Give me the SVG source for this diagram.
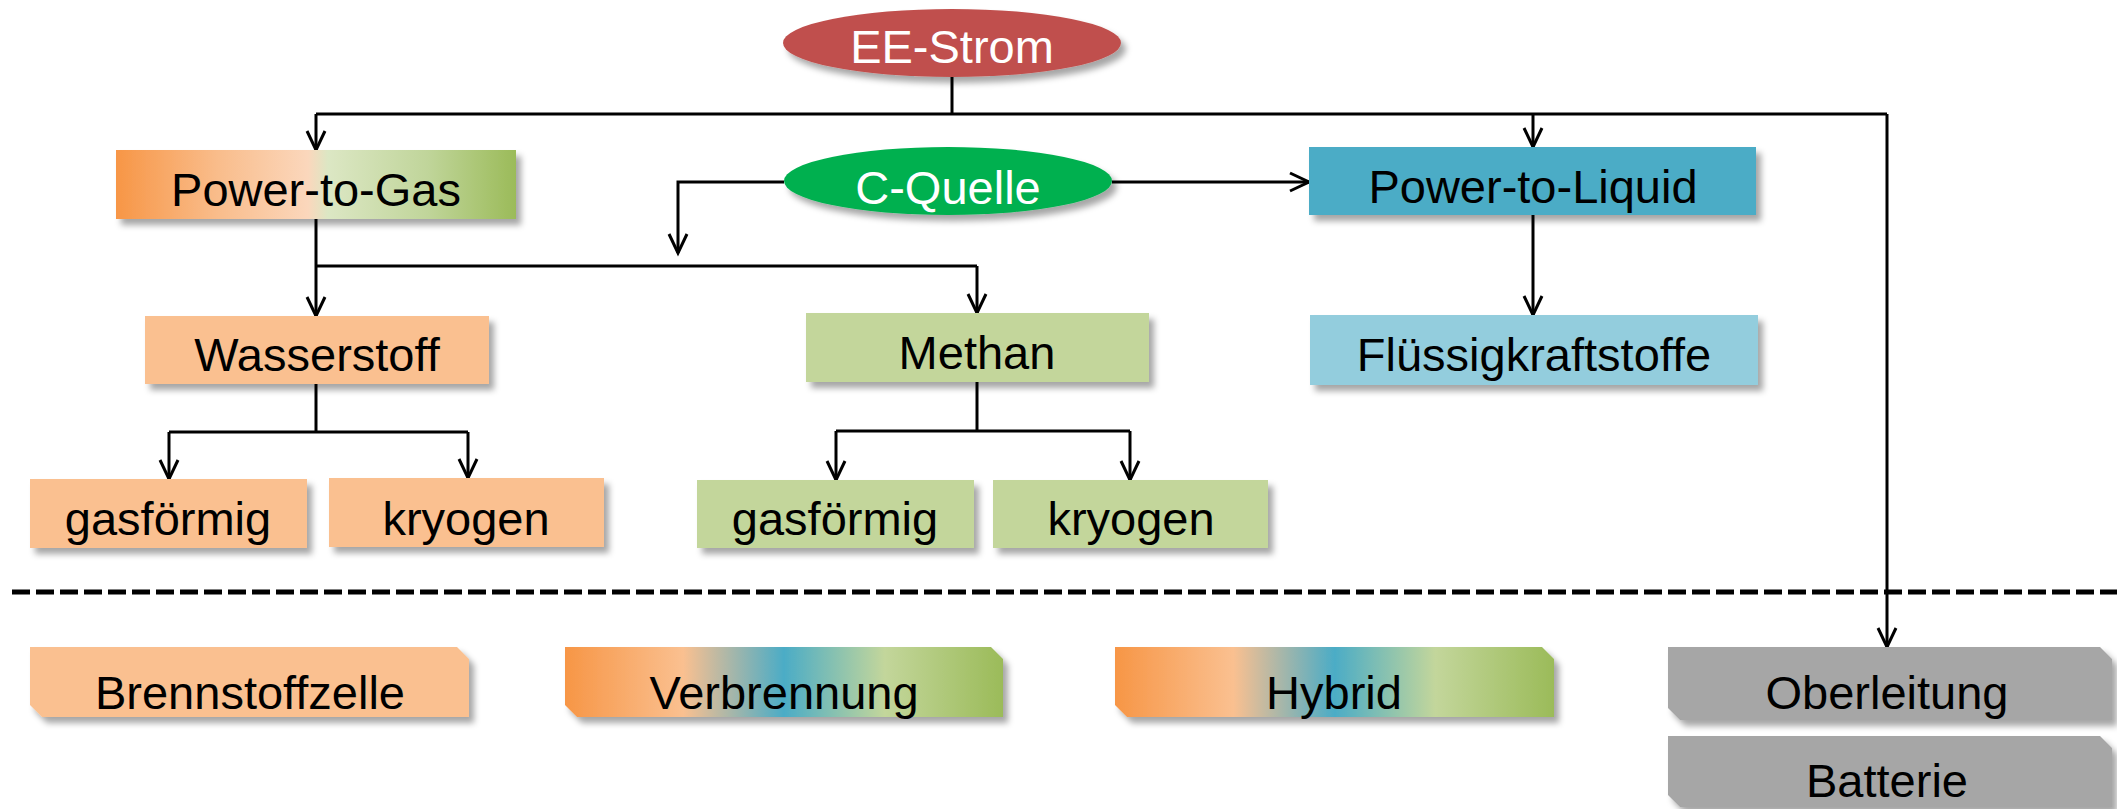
<svg xmlns="http://www.w3.org/2000/svg" width="2117" height="809" viewBox="0 0 2117 809">
<defs>
<style>
text{font-family:"Liberation Sans",Arial,sans-serif;font-size:47px;text-anchor:middle;fill:#000}
.w{fill:#fff}
.c{fill:none;stroke:#000;stroke-width:3}
.a{marker-end:url(#ah)}
.sh{filter:url(#ds)}
</style>
<filter id="ds" x="-10%" y="-20%" width="125%" height="150%">
<feDropShadow dx="5" dy="6" stdDeviation="3" flood-color="#000" flood-opacity="0.35"/>
</filter>
<marker id="ah" markerUnits="userSpaceOnUse" markerWidth="24" markerHeight="22" viewBox="0 0 24 22" refX="21" refY="11" orient="auto" overflow="visible">
<path d="M2,2 L21,11 L2,20" fill="none" stroke="#000" stroke-width="3"/>
</marker>
<linearGradient id="gPtG" x1="0" y1="0" x2="1" y2="0">
<stop offset="0" stop-color="#F79646"/>
<stop offset="0.25" stop-color="#F9BC8A"/>
<stop offset="0.48" stop-color="#FBD7BC"/>
<stop offset="0.53" stop-color="#DCE7C4"/>
<stop offset="0.78" stop-color="#C0D59A"/>
<stop offset="1" stop-color="#9BBB59"/>
</linearGradient>
<linearGradient id="gMix" x1="0" y1="0" x2="1" y2="0">
<stop offset="0" stop-color="#F79646"/>
<stop offset="0.27" stop-color="#FAC090"/>
<stop offset="0.5" stop-color="#4BACC6"/>
<stop offset="0.73" stop-color="#C3D69B"/>
<stop offset="1" stop-color="#9BBB59"/>
</linearGradient>
</defs>
<rect width="2117" height="809" fill="#fff"/>

<g id="connectors">
<polyline class="c" points="952,77 952,114"/>
<polyline class="c" points="316,114 1887,114"/>
<polyline class="c a" points="316,114 316,150"/>
<polyline class="c a" points="1533,114 1533,147"/>
<polyline class="c a" points="1887,114 1887,647"/>
<polyline class="c a" points="784,182 678,182 678,253"/>
<polyline class="c a" points="1112,182 1309,182"/>
<polyline class="c a" points="1533,215 1533,315"/>
<polyline class="c" points="316,219 316,266"/>
<polyline class="c" points="316,266 977,266"/>
<polyline class="c a" points="316,266 316,316"/>
<polyline class="c a" points="977,266 977,313"/>
<polyline class="c" points="316,384 316,432"/>
<polyline class="c" points="169,432 468,432"/>
<polyline class="c a" points="169,432 169,479"/>
<polyline class="c a" points="468,432 468,478"/>
<polyline class="c" points="977,382 977,431"/>
<polyline class="c" points="836,431 1130,431"/>
<polyline class="c a" points="836,431 836,480"/>
<polyline class="c a" points="1130,431 1130,480"/>
<line x1="12" y1="592" x2="2117" y2="592" stroke="#000" stroke-width="5" stroke-dasharray="18 6"/>
</g>

<g id="ee-strom">
<ellipse class="sh" cx="952" cy="43" rx="169" ry="34" fill="#C0504D"/>
<text class="w" x="952" y="63">EE-Strom</text>
</g>
<g id="power-to-gas">
<rect class="sh" x="116" y="150" width="400" height="69" fill="url(#gPtG)"/>
<text x="316" y="206">Power-to-Gas</text>
</g>
<g id="c-quelle">
<ellipse class="sh" cx="948" cy="181" rx="164" ry="34" fill="#00B050"/>
<text class="w" x="948" y="204">C-Quelle</text>
</g>
<g id="power-to-liquid">
<rect class="sh" x="1309" y="147" width="447" height="68" fill="#4BACC6"/>
<text x="1533" y="203">Power-to-Liquid</text>
</g>
<g id="fluessigkraftstoffe">
<rect class="sh" x="1310" y="315" width="448" height="70" fill="#93CDDD"/>
<text x="1534" y="371">Flüssigkraftstoffe</text>
</g>
<g id="wasserstoff">
<rect class="sh" x="145" y="316" width="344" height="68" fill="#FAC090"/>
<text x="317" y="371">Wasserstoff</text>
</g>
<g id="methan">
<rect class="sh" x="806" y="313" width="343" height="69" fill="#C3D69B"/>
<text x="977" y="369">Methan</text>
</g>
<g id="h-gasfoermig">
<rect class="sh" x="30" y="479" width="277" height="69" fill="#FAC090"/>
<text x="168" y="535">gasförmig</text>
</g>
<g id="h-kryogen">
<rect class="sh" x="329" y="478" width="275" height="69" fill="#FAC090"/>
<text x="466" y="535">kryogen</text>
</g>
<g id="m-gasfoermig">
<rect class="sh" x="697" y="480" width="277" height="68" fill="#C3D69B"/>
<text x="835" y="535">gasförmig</text>
</g>
<g id="m-kryogen">
<rect class="sh" x="993" y="480" width="275" height="68" fill="#C3D69B"/>
<text x="1131" y="535">kryogen</text>
</g>
<g id="brennstoffzelle">
<path class="sh" d="M30,647 H457 L469,659 V717 H42 L30,705 Z" fill="#FAC090"/>
<text x="250" y="709">Brennstoffzelle</text>
</g>
<g id="verbrennung">
<path class="sh" d="M565,647 H991 L1003,659 V717 H577 L565,705 Z" fill="url(#gMix)"/>
<text x="784" y="709">Verbrennung</text>
</g>
<g id="hybrid">
<path class="sh" d="M1115,647 H1542 L1554,659 V717 H1127 L1115,705 Z" fill="url(#gMix)"/>
<text x="1334" y="709">Hybrid</text>
</g>
<g id="oberleitung">
<path class="sh" d="M1668,647 H2100 L2112,659 V720 H1680 L1668,708 Z" fill="#A6A6A6"/>
<text x="1887" y="709">Oberleitung</text>
</g>
<g id="batterie">
<path class="sh" d="M1668,736 H2100 L2112,748 V807 H1680 L1668,795 Z" fill="#A6A6A6"/>
<text x="1887" y="797">Batterie</text>
</g>
</svg>
